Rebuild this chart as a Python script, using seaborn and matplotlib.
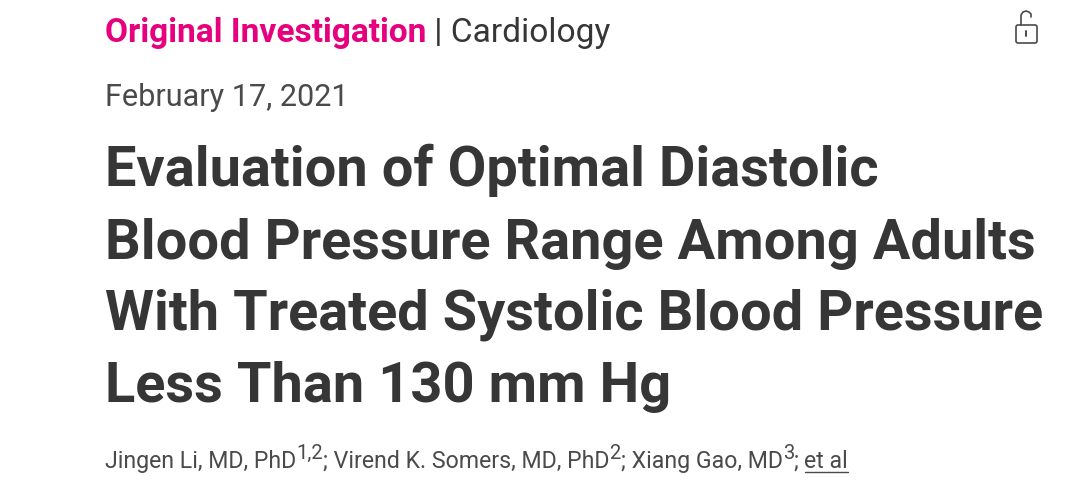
import matplotlib
matplotlib.use("Agg")
import matplotlib.pyplot as plt
from matplotlib.patches import FancyBboxPatch
import seaborn as sns

# text of the page header
kicker = "Original Investigation"
section = " | Cardiology"
date_line = "February 17, 2021"
title_lines = [
    "Evaluation of Optimal Diastolic",
    "Blood Pressure Range Among Adults",
    "With Treated Systolic Blood Pressure",
    "Less Than 130 mm Hg",
]
title_y = [186, 259, 329, 402]
authors = [
    ("Jingen Li, MD, PhD", False),
    ("1,2", True),
    ("; Virend K. Somers, MD, PhD", False),
    ("2", True),
    ("; Xiang Gao, MD", False),
    ("3", True),
    ("; ", False),
    ("et al", False),
]

sns.set_theme(style="white")
plt.rcParams["font.family"] = ["Roboto", "DejaVu Sans"]

W, H = 1080, 486
fig = plt.figure(figsize=(W / 100, H / 100), dpi=100, facecolor="white")
ax = fig.add_axes([0, 0, 1, 1])
ax.set_xlim(0, W)
ax.set_ylim(H, 0)
ax.axis("off")

dark = "#363636"
grey = "#4a4a4a"
pink = "#e6007e"

renderer = fig.canvas.get_renderer()

def put(x, y, s, **kw):
    t = ax.text(x, y, s, va="baseline", ha="left", **kw)
    return t, t.get_window_extent(renderer).width

# top line
t, w = put(105, 42, kicker, fontsize=24.1, fontweight="bold", color=pink)
put(105 + w, 42, section, fontsize=24.1, color=dark)

put(105, 106, date_line, fontsize=22.1, color=grey)

for line, y in zip(title_lines, title_y):
    put(105, y, line, fontsize=40.3, fontweight="bold", color=dark)

# author line with superscripts
x = 105
for s, sup in authors:
    if sup:
        t, w = put(x, 459, s, fontsize=14.5, color=grey)
    else:
        t, w = put(x, 468, s, fontsize=16.7, color=grey)
    if s == "et al":
        ax.plot([x, x + w], [472, 472], color=grey, lw=1)
    x += w

# open padlock icon
ax.add_patch(FancyBboxPatch((1016, 25), 21, 18, boxstyle="round,pad=0,rounding_size=2",
                            fill=False, ec=grey, lw=1.2))
ax.plot([1021, 1021, 1023, 1026, 1029, 1031, 1031], [25, 15, 12, 11, 12, 14, 17], color=grey, lw=1.2)
ax.plot([1026, 1026], [31, 36], color=grey, lw=1.4)

fig.savefig("out.png", dpi=100)
